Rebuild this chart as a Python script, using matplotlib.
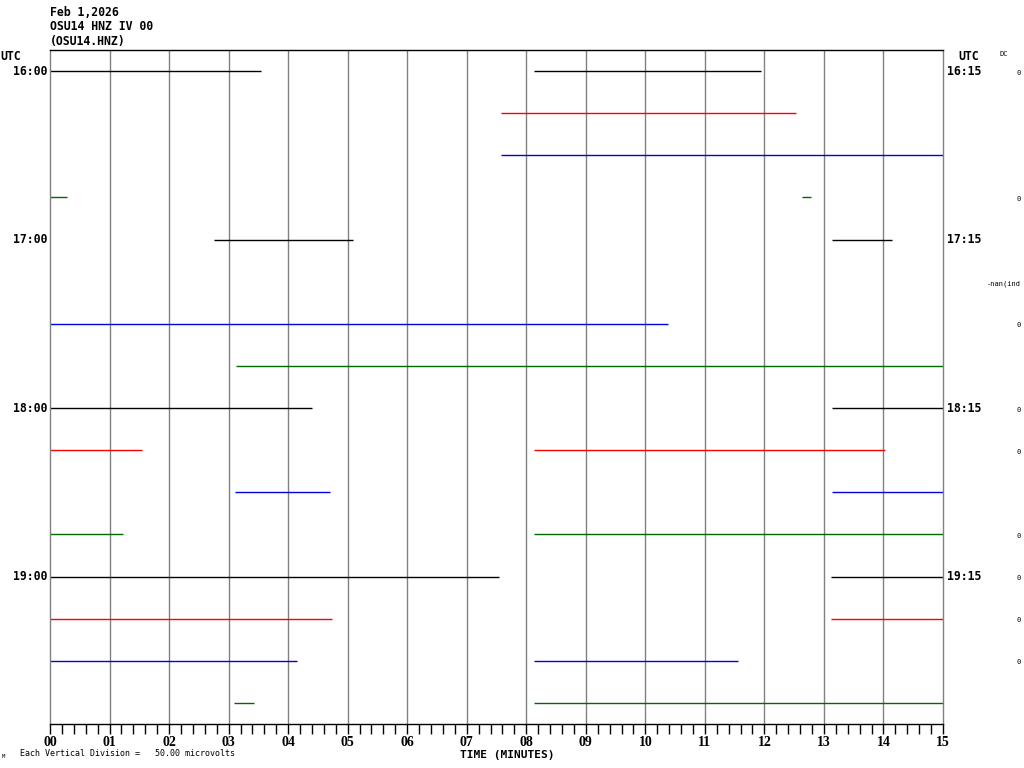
import matplotlib
matplotlib.use('Agg')
import matplotlib.pyplot as plt
import numpy as np

W, H = 1024, 768

# trace rows (15 minutes each), colours cycle black/red/blue/green
row_colors = ['black', '#ff0000', '#0000e0', '#006a00']
left_hours = ['16:00', '17:00', '18:00', '19:00']
right_hours = ['16:15', '17:15', '18:15', '19:15']
hour_rows = [0, 4, 8, 12]

# flat trace segments: row index, start minute, end minute
seg_row = [0, 0, 1, 2, 3, 3, 4, 4, 6, 7, 8, 8, 9, 9, 10, 10, 11, 11, 12, 12, 13, 13, 14, 14, 15, 15]
seg_start = [0.0, 8.13, 7.58, 7.58, 0.0, 12.63, 2.75, 13.14, 0.0, 3.12, 0.0, 13.14, 0.0, 8.13,
             3.11, 13.14, 0.0, 8.13, 0.0, 13.12, 0.0, 13.12, 0.0, 8.13, 3.09, 8.13]
seg_end = [3.54, 11.94, 12.53, 15.0, 0.29, 12.78, 5.09, 14.14, 10.38, 15.0, 4.40, 15.0, 1.55, 14.03,
           4.70, 15.0, 1.23, 15.0, 7.54, 15.0, 4.74, 15.0, 4.15, 11.56, 3.43, 15.0]

# DC offset column on the right
dc_rows = [0, 3, 5, 6, 8, 9, 11, 12, 13, 14]
dc_text = ['0', '0', '-nan(ind', '0', '0', '0', '0', '0', '0', '0']

minute_labels = ['%02d' % m for m in range(16)]

fig = plt.figure(figsize=(W / 100, H / 100), dpi=100)
ax = fig.add_axes([50 / W, 1 - 724 / H, 893 / W, 674 / H])
ax.set_xlim(0, 15)
ax.set_ylim(15.5, -0.5)

# minute grid
for m in range(1, 15):
    ax.axvline(m, color='#808080', lw=1.0, zorder=1)

for r, s, e in zip(seg_row, seg_start, seg_end):
    ax.hlines(r, s, e, color=row_colors[r % 4], lw=1.0, zorder=2)

for side in ['left', 'right']:
    ax.spines[side].set_color('#808080')
    ax.spines[side].set_linewidth(1.0)
for side in ['top', 'bottom']:
    ax.spines[side].set_color('black')
    ax.spines[side].set_linewidth(1.0)

ax.set_yticks([])
ax.set_xticks(range(16))
ax.set_xticklabels(minute_labels, fontfamily='Liberation Serif', fontweight='bold', fontsize=10)
ax.set_xticks(np.arange(0, 15.01, 0.2), minor=True)
ax.tick_params(axis='x', which='both', direction='out', length=7, width=1, color='black', pad=1.5)

mono = dict(fontfamily='DejaVu Sans Mono', fontweight='bold')
yt = ax.get_yaxis_transform()
for r, lab, rlab in zip(hour_rows, left_hours, right_hours):
    ax.text(-0.003, r, lab, transform=yt, ha='right', va='center', fontsize=8.3, **mono)
    ax.text(1.004, r, rlab, transform=yt, ha='left', va='center', fontsize=8.3, **mono)

for r, t in zip(dc_rows, dc_text):
    ax.text(1 + 78 / 893, r + 0.04, t, transform=yt, ha='right', va='center',
            fontsize=5, fontfamily='DejaVu Sans Mono', clip_on=False)


def px(x, y):
    return x / W, 1 - y / H


fig.text(*px(50, 12), 'Feb 1,2026', ha='left', va='center', fontsize=8.3, **mono)
fig.text(*px(50, 26), 'OSU14 HNZ IV 00', ha='left', va='center', fontsize=8.3, **mono)
fig.text(*px(50, 41), '(OSU14.HNZ)', ha='left', va='center', fontsize=8.3, **mono)
fig.text(*px(0, 56), 'UTC', ha='left', va='center', fontsize=8.3, **mono)
fig.text(*px(958, 56), 'UTC', ha='left', va='center', fontsize=8.3, **mono)
fig.text(*px(1004, 54), 'DC', ha='center', va='center', fontsize=5, fontfamily='DejaVu Sans Mono')
fig.text(*px(460, 755), 'TIME (MINUTES)', ha='left', va='center', fontsize=8, **mono)
fig.text(*px(20, 754), 'Each Vertical Division =   50.00 microvolts', ha='left', va='center',
         fontsize=6, fontfamily='DejaVu Sans Mono')
fig.text(*px(2, 757), 'M', ha='left', va='center', fontsize=4, fontfamily='DejaVu Sans Mono')

fig.savefig('out.png', dpi=100)
